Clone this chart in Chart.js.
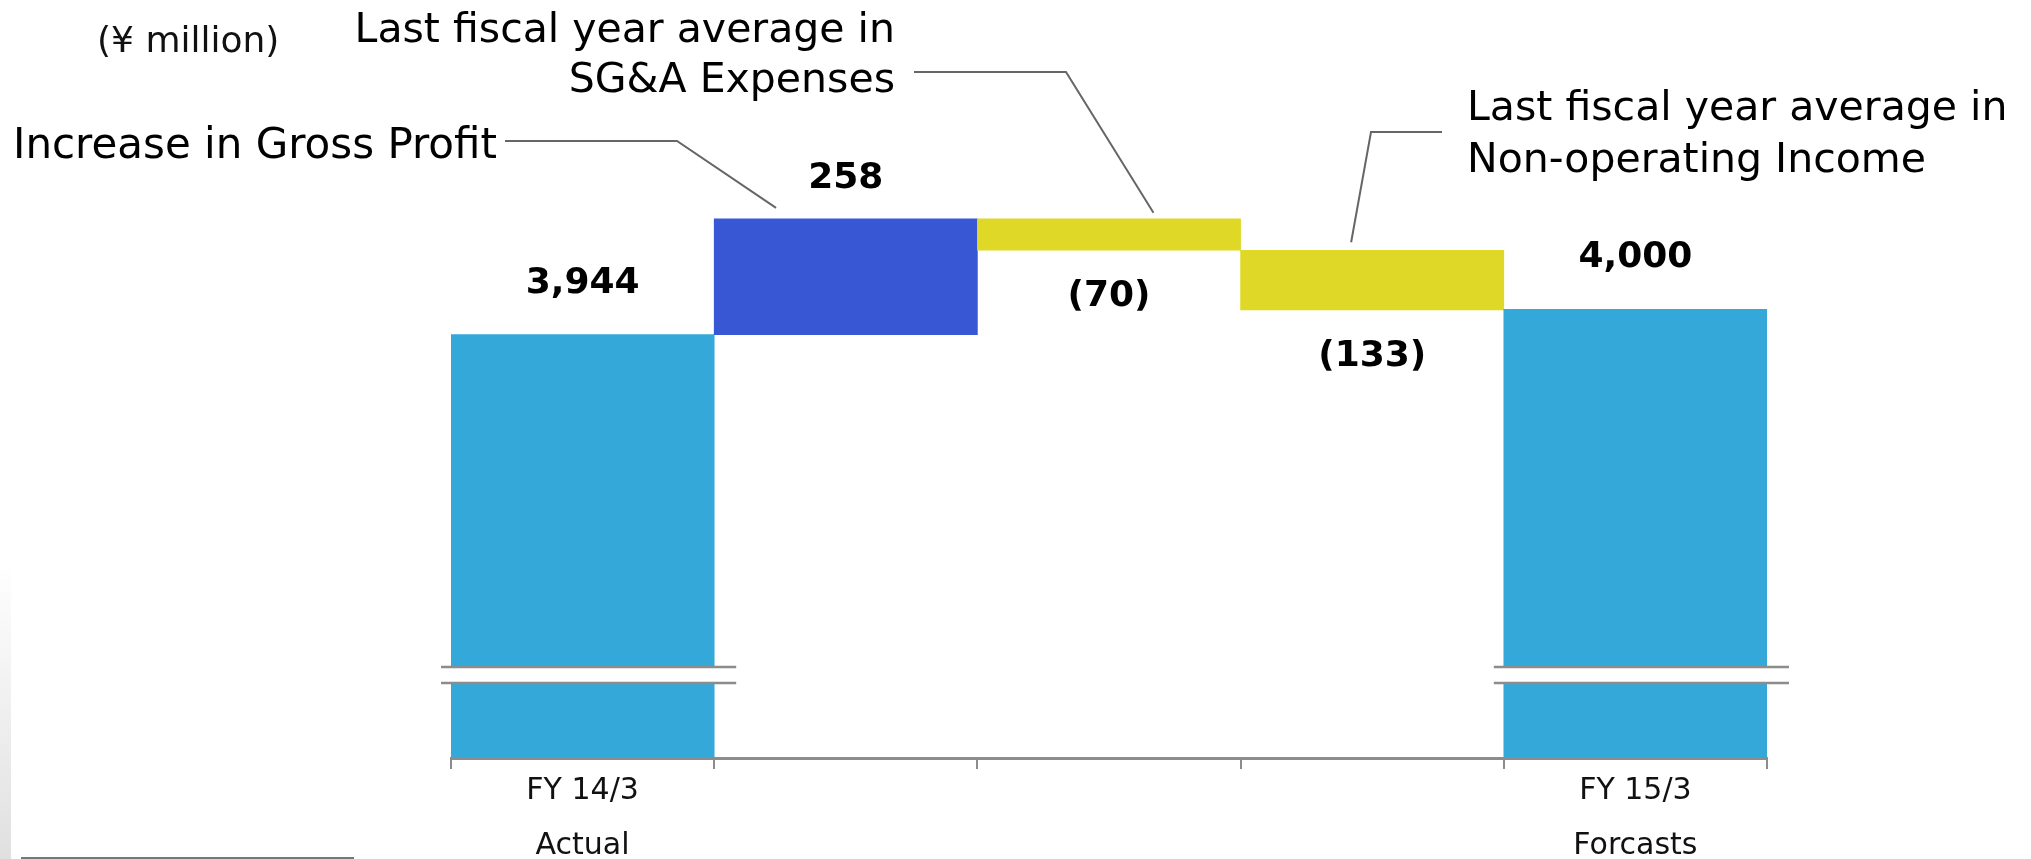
<!DOCTYPE html>
<html><head><meta charset="utf-8">
<script src="https://cdn.jsdelivr.net/npm/chart.js@4.4.1/dist/chart.umd.min.js"></script>
<style>
html,body{margin:0;padding:0;background:#fff;width:2031px;height:859px;overflow:hidden}
#wrap{position:relative;width:2031px;height:859px}
#edge{position:absolute;left:0;top:560px;width:11px;height:299px;background:linear-gradient(to bottom,#ffffff,#e0e0e0)}
#foot{position:absolute;left:21px;top:857px;width:333px;height:2px;background:#777}
canvas{position:absolute;left:0;top:0}
</style></head><body>
<div id="wrap"><div id="edge"></div><div id="foot"></div><canvas id="c" width="2031" height="859"></canvas></div>
<script>
// ---- data ----
const categories = [['FY 14/3', 'Actual'], '', '', '', ['FY 15/3', 'Forcasts']];
const steps = [3944, 258, -70, -133, 4000];
const kinds = ['total', 'increase', 'decrease', 'decrease', 'total'];
const barColors = ['#35A8DA', '#3857D5', '#E0D827', '#E0D827', '#35A8DA'];
const Y_MIN = 3000;
const Y_MAX = 4400;
const BREAK_LOW = 3167;
const BREAK_HIGH = 3203;
const unitLabel = '(¥ million)';
const calloutTexts = [
  ['Increase in Gross Profit'],
  ['Last fiscal year average in', 'SG&A Expenses'],
  ['Last fiscal year average in', 'Non-operating Income']
];
const calloutBars = [1, 2, 3];

// floating ranges built from the step values
let running = 0;
const ranges = steps.map((v, i) => {
  if (kinds[i] === 'total') { running = v; return [Y_MIN, v]; }
  const s = running; running += v; return [s, running];
});

function fmt(v) {
  const s = Math.abs(v).toLocaleString('en-US');
  return v < 0 ? '(' + s + ')' : s;
}

const FONT = '"DejaVu Sans", Verdana, sans-serif';

// layout of callouts (text anchors, elbows, and where on the bar the leader ends)
const calloutLayout = [
  { x: 13, ys: [158], size: 42, align: 'left', pts: [[505, 141], [677, 141]], fx: 0.235, dy: -11 },
  { x: 895, ys: [42, 92], size: 41, align: 'right', pts: [[914, 72], [1066, 72]], fx: 0.669, dy: -6 },
  { x: 1467, ys: [120, 172], size: 41, align: 'left', pts: [[1442, 132], [1371, 132]], fx: 0.42, dy: -8 }
];

const decor = {
  id: 'decor',
  afterDatasetsDraw(chart) {
    const ctx = chart.ctx;
    const meta = chart.getDatasetMeta(0);
    const y = chart.scales.y;
    ctx.save();
    // axis breaks on total bars
    meta.data.forEach((el, i) => {
      if (kinds[i] !== 'total') return;
      const w = el.width, left = el.x - w / 2;
      const yHi = y.getPixelForValue(BREAK_HIGH), yLo = y.getPixelForValue(BREAK_LOW);
      ctx.fillStyle = '#ffffff';
      ctx.fillRect(left - 1, yHi, w + 2, yLo - yHi);
      ctx.strokeStyle = '#8c8c8c';
      ctx.lineWidth = 2.5;
      [yHi, yLo].forEach(py => {
        ctx.beginPath(); ctx.moveTo(left - 10, py); ctx.lineTo(left + w + 22, py); ctx.stroke();
      });
    });
    // value labels
    ctx.fillStyle = '#000';
    ctx.font = 'bold 36px ' + FONT;
    ctx.textAlign = 'center';
    ctx.textBaseline = 'alphabetic';
    meta.data.forEach((el, i) => {
      const top = Math.min(el.y, el.base), bot = Math.max(el.y, el.base);
      let ty;
      if (kinds[i] === 'total') ty = top - 42;
      else if (steps[i] >= 0) ty = top - 31;
      else ty = bot + 56;
      ctx.fillText(fmt(steps[i]), el.x, ty);
    });
    // unit label
    ctx.font = '36px ' + FONT;
    ctx.textAlign = 'left';
    ctx.fillStyle = '#111';
    ctx.fillText(unitLabel, 97, 52);
    // callouts
    calloutLayout.forEach((c, k) => {
      ctx.font = c.size + 'px ' + FONT;
      ctx.fillStyle = '#000';
      ctx.textAlign = c.align;
      calloutTexts[k].forEach((t, j) => ctx.fillText(t, c.x, c.ys[j]));
      const el = meta.data[calloutBars[k]];
      const top = Math.min(el.y, el.base);
      const ex = el.x - el.width / 2 + el.width * c.fx, ey = top + c.dy;
      ctx.strokeStyle = '#666';
      ctx.lineWidth = 2;
      ctx.beginPath();
      ctx.moveTo(c.pts[0][0], c.pts[0][1]);
      ctx.lineTo(c.pts[1][0], c.pts[1][1]);
      ctx.lineTo(ex, ey);
      ctx.stroke();
    });
    ctx.restore();
  }
};

new Chart(document.getElementById('c'), {
  type: 'bar',
  data: {
    labels: categories,
    datasets: [{
      data: ranges,
      backgroundColor: barColors,
      borderWidth: 0,
      barPercentage: 1,
      categoryPercentage: 1,
      borderSkipped: false
    }]
  },
  options: {
    responsive: false,
    devicePixelRatio: 1,
    animation: false,
    layout: { padding: { left: 451, right: 264, top: 130, bottom: 0 } },
    plugins: { legend: { display: false }, tooltip: { enabled: false } },
    scales: {
      y: { display: false, min: Y_MIN, max: Y_MAX },
      x: {
        offset: true,
        grid: { display: true, drawOnChartArea: false, drawTicks: true, tickLength: 11, color: '#8c8c8c', lineWidth: 2, offset: true },
        border: { display: true, color: '#8c8c8c', width: 3 },
        ticks: { color: '#111', padding: -5, autoSkip: false, maxRotation: 0, font: { family: FONT, size: 30, lineHeight: '55px' } },
        afterFit(scale) { scale.height = 101; }
      }
    }
  },
  plugins: [decor]
});
</script>
</body></html>
